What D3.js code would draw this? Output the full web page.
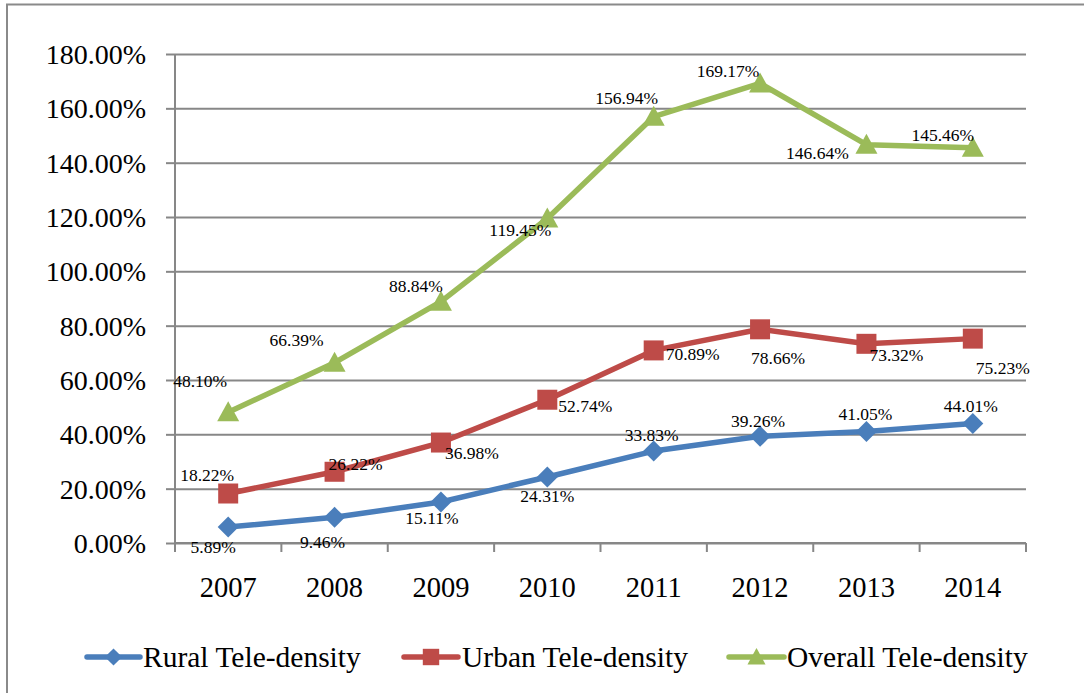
<!DOCTYPE html>
<html>
<head>
<meta charset="utf-8">
<script src="https://cdn.jsdelivr.net/npm/d3@7"></script>
<style>
  html, body { margin: 0; padding: 0; background: #fff; }
  svg { display: block; }
  text { font-family: "Liberation Serif", "Times New Roman", serif; fill: #000; }
</style>
</head>
<body>
<svg id="chart" width="1084" height="693"></svg>
<script>
// Tele-density by year, in percent
const years = ["2007", "2008", "2009", "2010", "2011", "2012", "2013", "2014"];
const rural = [5.89, 9.46, 15.11, 24.31, 33.83, 39.26, 41.05, 44.01];
const urban = [18.22, 26.22, 36.98, 52.74, 70.89, 78.66, 73.32, 75.23];
const overall = [48.10, 66.39, 88.84, 119.45, 156.94, 169.17, 146.64, 145.46];
const yTicks = [0, 20, 40, 60, 80, 100, 120, 140, 160, 180];
const seriesNames = ["Rural Tele-density", "Urban Tele-density", "Overall Tele-density"];

// Label placement relative to each point (dx, dy of label centre)
const ruralLabelOffsets = [[-15, 20], [-12, 25], [-9, 16], [0, 19], [-2, -16], [-2, -15], [-1, -18], [-2, -18]];
const urbanLabelOffsets = [[-21, -19], [21, -8], [31, 10], [38, 6], [39, 3], [18, 29], [30, 11], [30, 29]];
const overallLabelOffsets = [[-28, -31], [-38, -23], [-25, -16], [-27, 11], [-27, -19], [-32, -13], [-49, 8], [-30, -13]];

const svg = d3.select("#chart");
const gridColor = "#878787";

// Outer frame (left and top edges visible)
svg.append("path")
  .attr("d", "M7,693 L7,4.5 L1084,4.5")
  .attr("fill", "none").attr("stroke", "#8a8a8a").attr("stroke-width", 2);

const plot = { left: 175, right: 1026, top: 54, bottom: 543 };

const x = d3.scaleBand().domain(years).range([plot.left, plot.right]);
const y = d3.scaleLinear().domain([0, 180]).range([plot.bottom, plot.top]);
const cx = d => x(d) + x.bandwidth() / 2;

// Horizontal gridlines with left tick marks
const yAxis = d3.axisLeft(y).tickValues(yTicks).tickSize(9).tickFormat(d => d.toFixed(2) + "%");
const gy = svg.append("g").attr("transform", `translate(${plot.left},0)`).call(yAxis);
gy.select(".domain").remove();
gy.selectAll(".tick line").attr("stroke", gridColor).attr("stroke-width", 2);
gy.selectAll(".tick").append("line")
  .attr("x1", 0).attr("x2", plot.right - plot.left)
  .attr("stroke", gridColor).attr("stroke-width", 2);
gy.selectAll(".tick text")
  .attr("x", -29).attr("dy", "0.34em")
  .style("font-size", "28px")
  .style("font-family", "Liberation Serif, serif")
  .attr("fill", "#000");

// Vertical axis line
svg.append("line")
  .attr("x1", plot.left).attr("x2", plot.left)
  .attr("y1", plot.top).attr("y2", plot.bottom + 9)
  .attr("stroke", gridColor).attr("stroke-width", 2);

// Category axis with tick marks on the band boundaries
const gx = svg.append("g").attr("transform", `translate(0,${plot.bottom})`);
gx.append("line").attr("x1", plot.left).attr("x2", plot.right)
  .attr("stroke", gridColor).attr("stroke-width", 2);
gx.selectAll("line.b").data(years.concat(["end"])).join("line").attr("class", "b")
  .attr("x1", (d, i) => plot.left + i * x.bandwidth())
  .attr("x2", (d, i) => plot.left + i * x.bandwidth())
  .attr("y1", 0).attr("y2", 9)
  .attr("stroke", gridColor).attr("stroke-width", 2);
gx.selectAll("text").data(years).join("text")
  .attr("x", d => cx(d)).attr("y", 54)
  .attr("text-anchor", "middle")
  .style("font-size", "28.5px")
  .text(d => d);

const series = [
  { name: seriesNames[0], values: rural, color: "#4a7ebb", marker: "diamond", offsets: ruralLabelOffsets },
  { name: seriesNames[1], values: urban, color: "#be4b48", marker: "square", offsets: urbanLabelOffsets },
  { name: seriesNames[2], values: overall, color: "#9bbb59", marker: "triangle", offsets: overallLabelOffsets }
];

const markerPath = {
  diamond: "M0,-10.5 L10.5,0 L0,10.5 L-10.5,0 Z",
  square: "M-10,-10 L10,-10 L10,10 L-10,10 Z",
  triangle: "M0,-11 L11,9 L-11,9 Z"
};

const line = d3.line().x(d => cx(d.year)).y(d => y(d.v));

series.forEach(s => {
  const pts = years.map((yr, i) => ({ year: yr, v: s.values[i], off: s.offsets[i] }));
  const g = svg.append("g");
  g.append("path").datum(pts)
    .attr("d", line)
    .attr("fill", "none").attr("stroke", s.color)
    .attr("stroke-width", 5.5).attr("stroke-linejoin", "round");
  g.selectAll("path.m").data(pts).join("path").attr("class", "m")
    .attr("transform", d => `translate(${cx(d.year)},${y(d.v)})`)
    .attr("d", markerPath[s.marker])
    .attr("fill", s.color);
  s.pts = pts;
});

// Value labels drawn on top of all series
series.forEach(s => {
  svg.append("g").selectAll("text").data(s.pts).join("text")
    .attr("x", d => cx(d.year) + d.off[0])
    .attr("y", d => y(d.v) + d.off[1])
    .attr("dy", "0.35em")
    .attr("text-anchor", "middle")
    .style("font-size", "17.5px")
    .text(d => d.v.toFixed(2) + "%");
});

// Legend
const legendItems = [
  { s: series[0], x0: 87, x1: 140, tx: 143 },
  { s: series[1], x0: 404, x1: 458, tx: 462 },
  { s: series[2], x0: 729, x1: 784, tx: 787 }
];
const ly = 657;
const lg = svg.append("g");
legendItems.forEach(it => {
  lg.append("line")
    .attr("x1", it.x0).attr("x2", it.x1).attr("y1", ly).attr("y2", ly)
    .attr("stroke", it.s.color).attr("stroke-width", 5.5).attr("stroke-linecap", "round");
  lg.append("path")
    .attr("transform", `translate(${(it.x0 + it.x1) / 2},${ly}) scale(0.82)`)
    .attr("d", markerPath[it.s.marker])
    .attr("fill", it.s.color);
  lg.append("text")
    .attr("x", it.tx).attr("y", ly + 10)
    .style("font-size", "29.5px")
    .text(it.s.name);
});
</script>
</body>
</html>
